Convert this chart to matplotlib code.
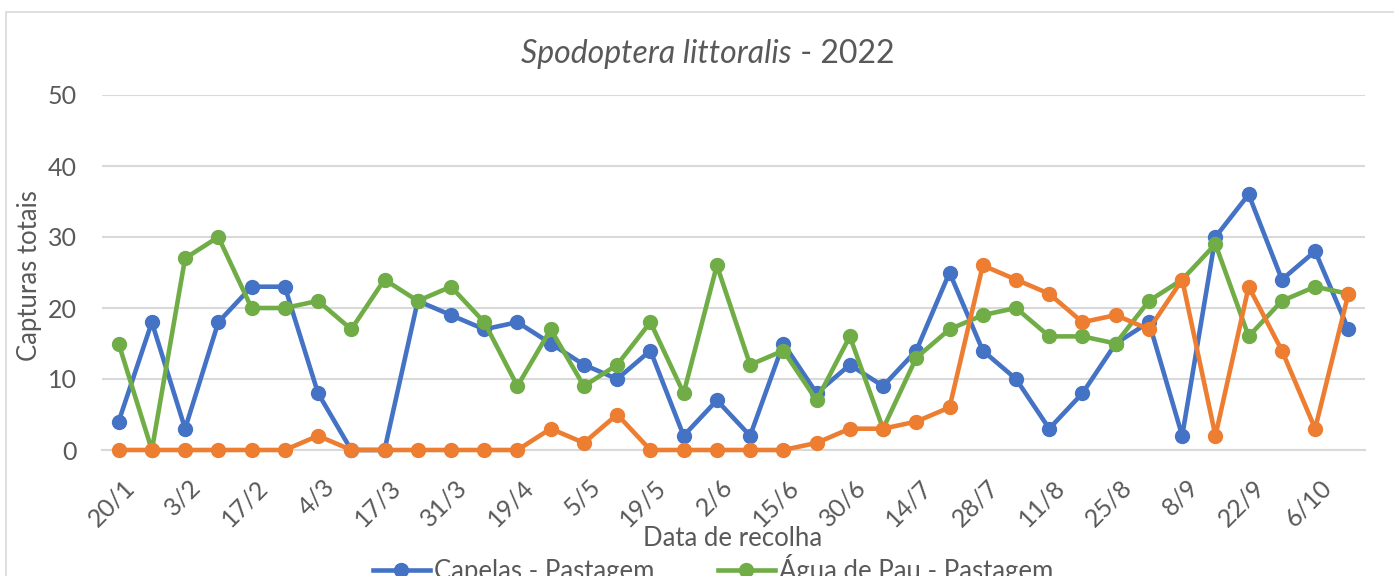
import matplotlib.pyplot as plt
import matplotlib.transforms as mtransforms
from matplotlib.patches import Rectangle

# datas de recolha (só de duas em duas aparecem no eixo)
datas = ["20/1", "27/1", "3/2", "10/2", "17/2", "24/2", "4/3", "10/3", "17/3", "24/3",
         "31/3", "7/4", "19/4", "28/4", "5/5", "12/5", "19/5", "26/5", "2/6", "9/6",
         "15/6", "22/6", "30/6", "7/7", "14/7", "21/7", "28/7", "4/8", "11/8", "18/8",
         "25/8", "1/9", "8/9", "15/9", "22/9", "29/9", "6/10", "13/10"]

capelas = [4, 18, 3, 18, 23, 23, 8, 0, 0, 21, 19, 17, 18, 15, 12, 10, 14, 2, 7, 2,
           15, 8, 12, 9, 14, 25, 14, 10, 3, 8, 15, 18, 2, 30, 36, 24, 28, 17]
agua_de_pau = [15, 0, 27, 30, 20, 20, 21, 17, 24, 21, 23, 18, 9, 17, 9, 12, 18, 8, 26, 12,
               14, 7, 16, 3, 13, 17, 19, 20, 16, 16, 15, 21, 24, 29, 16, 21, 23, 22]
terceira = [0, 0, 0, 0, 0, 0, 2, 0, 0, 0, 0, 0, 0, 3, 1, 5, 0, 0, 0, 0,
            0, 1, 3, 3, 4, 6, 26, 24, 22, 18, 19, 17, 24, 2, 23, 14, 3, 22]

yticks = [0, 10, 20, 30, 40, 50]

plt.rcParams['font.family'] = ['Lato', 'DejaVu Sans']
cinza = '#595959'

fig = plt.figure(figsize=(13.94, 5.76), dpi=100)
W, H = 1394, 576

# moldura da área do gráfico
fig.patches.append(Rectangle((6 / W, -0.1), 1.2, 1 - 12 / H + 0.1, transform=fig.transFigure,
                             fill=False, edgecolor='#D9D9D9', linewidth=1.2))

ax = fig.add_axes([102 / W, 1 - 450 / H, (1365 - 102) / W, (450 - 95) / H])

x = list(range(len(datas)))
estilo = dict(linewidth=3.3, marker='o', markersize=10, clip_on=False)
l_cap, = ax.plot(x, capelas, color='#4472C4', zorder=3, label='Capelas - Pastagem', **estilo)
l_agua, = ax.plot(x, agua_de_pau, color='#70AD47', zorder=4, label='Água de Pau - Pastagem', **estilo)
ax.plot(x, terceira, color='#ED7D31', zorder=5, **estilo)

ax.set_xlim(-0.5, len(datas) - 0.5)
ax.set_ylim(0, 50)
ax.set_yticks(yticks)
ax.set_xticks(x[::2])
ax.set_xticklabels(datas[::2], rotation=45, ha='right', rotation_mode='anchor')
ax.tick_params(axis='both', length=0, labelsize=18, colors=cinza)
ax.tick_params(axis='x', pad=18)
ax.tick_params(axis='y', pad=18)
desloc = mtransforms.ScaledTranslation(4 / 100, 0, fig.dpi_scale_trans)
for lab in ax.get_xticklabels():
    lab.set_transform(lab.get_transform() + desloc)

ax.grid(axis='y', color='#D9D9D9', linewidth=1.5, zorder=0)
ax.set_axisbelow(True)
for lado in ['top', 'right', 'left']:
    ax.spines[lado].set_visible(False)
ax.spines['bottom'].set_color('#D9D9D9')
ax.spines['bottom'].set_linewidth(1.5)

ax.set_ylabel('Capturas totais', fontsize=18.5, color=cinza)
ax.yaxis.set_label_coords((42 - 102) / (1365 - 102), 0.49)

fig.text(733 / W, 1 - 538 / H, 'Data de recolha', fontsize=18.5, color=cinza,
         ha='center', va='center')

# título: parte em itálico + ano
t1 = fig.text(521 / W, 1 - 63 / H, 'Spodoptera littoralis', fontsize=23, style='italic',
              color=cinza, ha='left', va='baseline')
ax.annotate(' - 2022', xy=(1, 0), xycoords=t1, fontsize=23, color=cinza,
            ha='left', va='bottom')

fig.legend(handles=[l_cap, l_agua], loc='center', bbox_to_anchor=(713 / W, 1 - 569 / H),
           ncol=2, frameon=False, fontsize=18.5, handlelength=2.2, handletextpad=0.15,
           columnspacing=2.5, labelcolor=cinza)

fig.savefig('out.png', dpi=100)
